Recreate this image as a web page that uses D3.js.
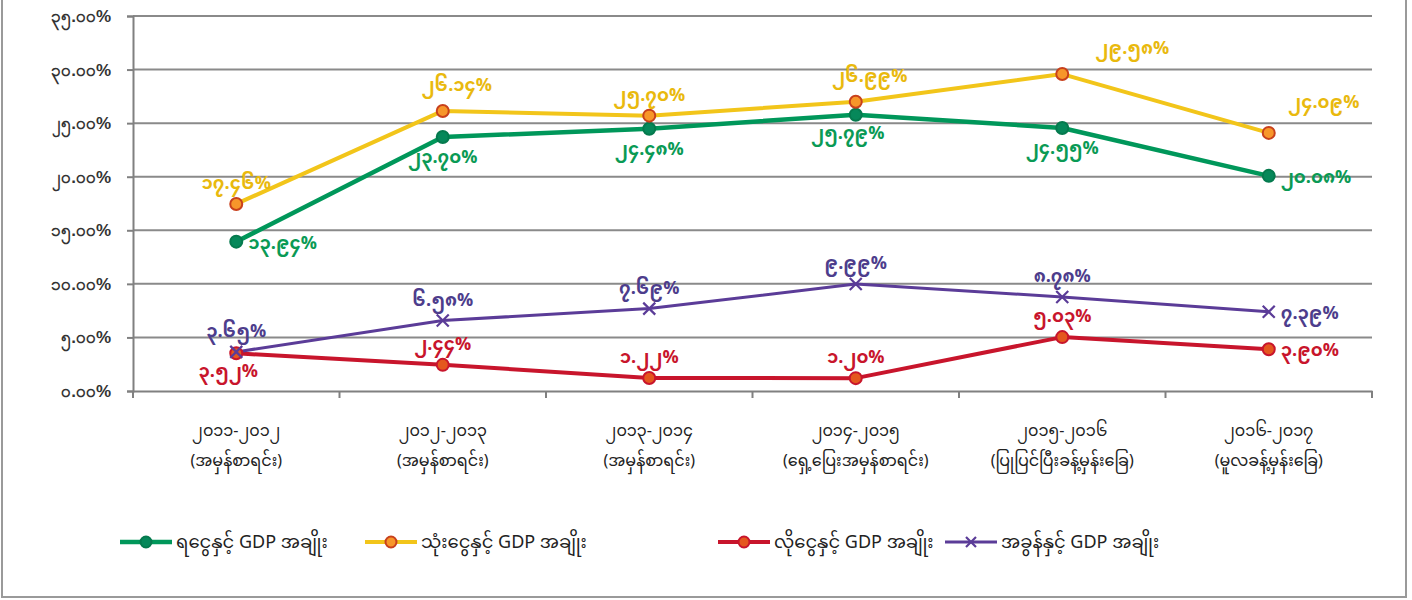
<!DOCTYPE html>
<html><head><meta charset="utf-8">
<script src="https://cdn.jsdelivr.net/npm/d3@7"></script>
<style>
html,body{margin:0;padding:0;background:#fff;}
svg{display:block;font-family:"Noto Sans Myanmar","Padauk","Myanmar Text","Noto Sans","DejaVu Sans",sans-serif;}
</style></head>
<body>
<svg id="c" width="1412" height="600"></svg>
<script>
const categories = ["၂၀၁၁-၂၀၁၂","၂၀၁၂-၂၀၁၃","၂၀၁၃-၂၀၁၄","၂၀၁၄-၂၀၁၅","၂၀၁၅-၂၀၁၆","၂၀၁၆-၂၀၁၇"];
const categoryNotes = ["(အမှန်စာရင်း)","(အမှန်စာရင်း)","(အမှန်စာရင်း)","(ရှေ့ပြေးအမှန်စာရင်း)","(ပြုပြင်ပြီးခန့်မှန်းခြေ)","(မူလခန့်မှန်းခြေ)"];
const revenue     = [13.94, 23.70, 24.48, 25.79, 24.55, 20.08];
const expenditure = [17.46, 26.14, 25.70, 26.99, 29.58, 24.09];
const deficit     = [3.52, 2.44, 1.22, 1.20, 5.03, 3.90];
const tax         = [3.65, 6.58, 7.69, 9.99, 8.78, 7.39];
const seriesNames = ["ရငွေနှင့် GDP အချိုး","သုံးငွေနှင့် GDP အချိုး","လိုငွေနှင့် GDP အချိုး","အခွန်နှင့် GDP အချိုး"];
const yTicks = [0,5,10,15,20,25,30,35];
const yTickLabels = ["၀.၀၀%","၅.၀၀%","၁၀.၀၀%","၁၅.၀၀%","၂၀.၀၀%","၂၅.၀၀%","၃၀.၀၀%","၃၅.၀၀%"];

const myDigits = "၀၁၂၃၄၅၆၇၈၉";
const toMy = s => s.replace(/[0-9]/g, d => myDigits[+d]);
const fmt = v => toMy(v.toFixed(2)) + "%";

const series = [
  {name:seriesNames[0], values:revenue, color:"#00975a", label:"#0a9a55", marker:"circle", mfill:"#06885a", mstroke:"#057a4e", width:4.5,
   pos:["right","below","below","belowL","below","right"]},
  {name:seriesNames[1], values:expenditure, color:"#f2c51a", label:"#e9b90e", marker:"circle", mfill:"#f7962a", mstroke:"#c8401c", width:4,
   pos:["above","aboveR","above","aboveR","aboveR2","aboveR3"]},
  {name:seriesNames[2], values:deficit, color:"#c8152c", label:"#c8152c", marker:"circle", mfill:"#e4571e", mstroke:"#c8152c", width:4,
   pos:["belowL","above","above","above","above","right"]},
  {name:seriesNames[3], values:tax, color:"#5b3c98", label:"#4d3d8c", marker:"x", width:3,
   pos:["above","above","above","above","above","right"]}
];

const svg = d3.select("#c");
const m = {l:133, r:40, t:16, b:209};
const W = 1412, H = 600;
const x = d3.scaleBand().domain(categories).range([m.l, W - m.r]);
const y = d3.scaleLinear().domain([0,35]).range([H - m.b, m.t]);

// frame
svg.append("rect").attr("x",2).attr("y",-5).attr("width",1404).attr("height",602)
  .attr("fill","none").attr("stroke","#9a9a9a").attr("stroke-width",2);

// gridlines
svg.append("g").selectAll("line").data(yTicks.slice(1)).join("line")
  .attr("x1",m.l).attr("x2",W-m.r).attr("y1",d=>y(d)).attr("y2",d=>y(d))
  .attr("stroke","#8a8a8a").attr("stroke-width",2);

// y axis
const yAxis = d3.axisLeft(y).tickValues(yTicks).tickSize(6).tickFormat((d,i)=>yTickLabels[i]);
const gy = svg.append("g").attr("transform",`translate(${m.l},0)`).call(yAxis);
gy.select(".domain").attr("stroke","#808080").attr("stroke-width",2);
gy.selectAll(".tick line").attr("stroke","#808080").attr("stroke-width",2);
gy.selectAll(".tick text").attr("x",-22).attr("font-size",17).attr("font-weight","bold").attr("fill","#333");

// x axis
const xAxis = d3.axisBottom(x).tickSize(0).tickFormat("");
const gx = svg.append("g").attr("transform",`translate(0,${y(0)})`).call(xAxis);
gx.select(".domain").attr("stroke","#808080").attr("stroke-width",2);
const bounds = categories.map(c=>x(c)).concat([x(categories[categories.length-1])+x.bandwidth()]);
gx.selectAll(".btick").data(bounds).join("line").attr("class","btick")
  .attr("x1",d=>d).attr("x2",d=>d).attr("y1",0).attr("y2",7).attr("stroke","#808080").attr("stroke-width",2);

const cx = c => x(c) + x.bandwidth()/2;
const catG = svg.append("g");
categories.forEach((c,i)=>{
  catG.append("text").attr("x",cx(c)).attr("y",436).attr("text-anchor","middle").attr("fill","#222").attr("font-size",16).text(c);
  catG.append("text").attr("x",cx(c)).attr("y",466).attr("text-anchor","middle").attr("fill","#222").attr("font-size",16).text(categoryNotes[i]);
});

// lines
const line = d3.line().x((d,i)=>cx(categories[i])).y(d=>y(d));
series.forEach(s=>{
  svg.append("path").datum(s.values).attr("d",line).attr("fill","none")
    .attr("stroke",s.color).attr("stroke-width",s.width).attr("stroke-linejoin","round");
});
// markers
function drawMarker(g, s, px, py, size){
  if(s.marker==="circle"){
    g.append("circle").attr("cx",px).attr("cy",py).attr("r",size).attr("fill",s.mfill).attr("stroke",s.mstroke).attr("stroke-width",2);
  } else {
    const k = size;
    g.append("path").attr("d",`M${px-k},${py-k}L${px+k},${py+k}M${px-k},${py+k}L${px+k},${py-k}`)
      .attr("stroke",s.color).attr("stroke-width",2.2).attr("fill","none");
  }
}
series.forEach(s=>{
  const g = svg.append("g");
  s.values.forEach((v,i)=>drawMarker(g,s,cx(categories[i]),y(v),6));
});
// labels
const off = {
  above:[0,-15,"middle"], aboveR:[14,-20,"middle"], aboveR2:[70,-20,"middle"], aboveR3:[55,-25,"middle"],
  below:[0,26,"middle"], belowL:[-8,24,"middle"], right:[12,7,"start"]
};
series.forEach(s=>{
  const g = svg.append("g");
  s.values.forEach((v,i)=>{
    const o = off[s.pos[i]];
    g.append("text").attr("x",cx(categories[i])+o[0]).attr("y",y(v)+o[1]).attr("text-anchor",o[2])
      .attr("fill",s.label).attr("font-size",18).attr("font-weight","bold").text(fmt(v));
  });
});

// legend
const legX = [120, 365, 718, 945];
const legY = 542;
series.forEach((s,i)=>{
  const g = svg.append("g").attr("transform",`translate(${legX[i]},${legY})`);
  g.append("line").attr("x1",0).attr("x2",52).attr("y1",0).attr("y2",0).attr("stroke",s.color).attr("stroke-width",s.width);
  drawMarker(g,s,26,0,s.marker==="x"?5:5.5);
  g.append("text").attr("x",56).attr("y",6).attr("fill","#222").attr("font-size",18).text(s.name);
});
</script>
</body></html>
